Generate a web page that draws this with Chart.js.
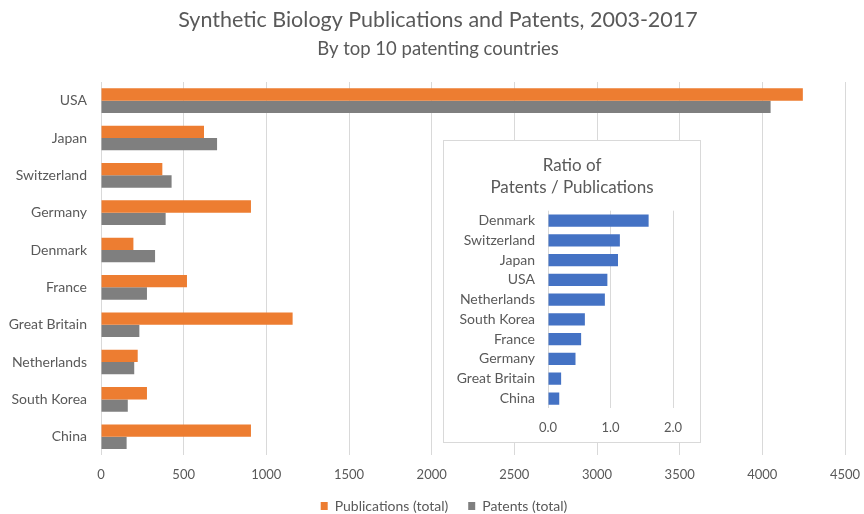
<!DOCTYPE html>
<html>
<head>
<meta charset="utf-8">
<script src="https://cdn.jsdelivr.net/npm/chart.js@4/dist/chart.umd.min.js"></script>
<style>
  body { margin: 0; background: #fff; }
  #wrap { position: relative; width: 864px; height: 514px; }
  #ratioBox { position: absolute; left: 443px; top: 140px; width: 256px; height: 301px; border: 1px solid #d9d9d9; background: #fff; }
</style>
</head>
<body>
<div id="wrap">
  <canvas id="mainChart" width="864" height="514"></canvas>
  <div id="ratioBox"><canvas id="ratioChart" width="256" height="301"></canvas></div>
</div>
<script>
// totals per country, 2003-2017
var countries = ['USA', 'Japan', 'Switzerland', 'Germany', 'Denmark', 'France', 'Great Britain', 'Netherlands', 'South Korea', 'China'];
var publications = [4245, 623, 371, 907, 196, 520, 1159, 222, 278, 907];
var patents = [4050, 702, 427, 391, 327, 278, 232, 201, 162, 155];

// patents / publications, sorted
var ratioCountries = ['Denmark', 'Switzerland', 'Japan', 'USA', 'Netherlands', 'South Korea', 'France', 'Germany', 'Great Britain', 'China'];
var ratios = [1.61, 1.15, 1.12, 0.95, 0.91, 0.59, 0.53, 0.44, 0.21, 0.18];

var textColor = '#595959';
var gridColor = '#d9d9d9';
Chart.defaults.font.family = 'Lato, "Open Sans", sans-serif';
Chart.defaults.color = textColor;

// move title/legend boxes after layout: titles centred on width + titleDx,
// legend slid by legendDx / legendDy
function boxShift(titleDx, legendDx, legendDy) {
  return {
    id: 'boxShift',
    afterLayout: function(chart) {
      chart.boxes.forEach(function(box) {
        if (box !== chart.legend && box.options && box.options.text !== undefined) {
          box.left = titleDx;
          box.right = chart.width + titleDx;
        }
      });
      var lg = chart.legend;
      if (lg && lg.options.display) {
        lg.left = legendDx;
        lg.right = chart.width + legendDx;
        lg.top += legendDy;
        lg.bottom += legendDy;
      }
    }
  };
}

var ctx = document.getElementById('mainChart').getContext('2d');
var mainChart = new Chart(ctx, {
  type: 'bar',
  data: {
    labels: countries,
    datasets: [{
      label: 'Publications (total)',
      data: publications,
      backgroundColor: '#ed7d31'
    }, {
      label: 'Patents (total)',
      data: patents,
      backgroundColor: '#7f7f7f'
    }]
  },
  options: {
    indexAxis: 'y',
    responsive: false,
    animation: false,
    categoryPercentage: 0.66,
    barPercentage: 1.0,
    layout: { padding: { left: 0, right: 0, bottom: -25 } },
    plugins: {
      title: {
        display: true,
        text: 'Synthetic Biology Publications and Patents, 2003-2017',
        color: textColor,
        font: { size: 21.5, weight: 'normal' },
        padding: { top: 7, bottom: 2 }
      },
      subtitle: {
        display: true,
        text: 'By top 10 patenting countries',
        color: textColor,
        font: { size: 18.5, weight: 'normal' },
        padding: { top: 3, bottom: 22 }
      },
      legend: {
        position: 'bottom',
        labels: {
          boxWidth: 7,
          boxHeight: 8,
          color: textColor,
          font: { size: 14 },
          padding: 20
        }
      },
      tooltip: { enabled: false }
    },
    scales: {
      x: {
        min: 0,
        max: 4500,
        ticks: {
          stepSize: 500,
          color: textColor,
          font: { size: 13 },
          padding: 12,
          callback: function(v) { return String(v); }
        },
        grid: { color: gridColor, drawTicks: false },
        border: { display: false },
        // last label may hang past the plot edge
        afterFit: function(scale) { scale.paddingRight = 19; }
      },
      y: {
        grid: { display: false, drawTicks: false },
        border: { display: false },
        ticks: { color: textColor, font: { size: 14 }, padding: 14 },
        afterFit: function(scale) { scale.width = 101; }
      }
    }
  },
  plugins: [boxShift(6, 12, -16)]
});

var rctx = document.getElementById('ratioChart').getContext('2d');
var ratioChart = new Chart(rctx, {
  type: 'bar',
  data: {
    labels: ratioCountries,
    datasets: [{
      label: 'Ratio',
      data: ratios,
      backgroundColor: '#4472c4'
    }]
  },
  options: {
    indexAxis: 'y',
    responsive: false,
    animation: false,
    categoryPercentage: 1.0,
    barPercentage: 0.62,
    layout: { padding: { left: 0, right: 27, bottom: -6 } },
    plugins: {
      title: {
        display: true,
        text: ['Ratio of', 'Patents / Publications'],
        color: textColor,
        font: { size: 17, weight: 'normal', lineHeight: 1.3 },
        padding: { top: 13, bottom: 12.5 }
      },
      legend: { display: false },
      tooltip: { enabled: false }
    },
    scales: {
      x: {
        min: 0,
        max: 2,
        ticks: {
          stepSize: 1,
          color: textColor,
          font: { size: 13 },
          padding: 12,
          callback: function(v) { return v.toFixed(1); }
        },
        grid: { color: gridColor, drawTicks: false },
        border: { display: false }
      },
      y: {
        grid: { display: false, drawTicks: false },
        border: { display: false },
        ticks: { color: textColor, font: { size: 14 }, padding: 13, autoSkip: false },
        afterFit: function(scale) { scale.width = 104; }
      }
    }
  },
  plugins: [boxShift(0, 0, 0)]
});
</script>
</body>
</html>
